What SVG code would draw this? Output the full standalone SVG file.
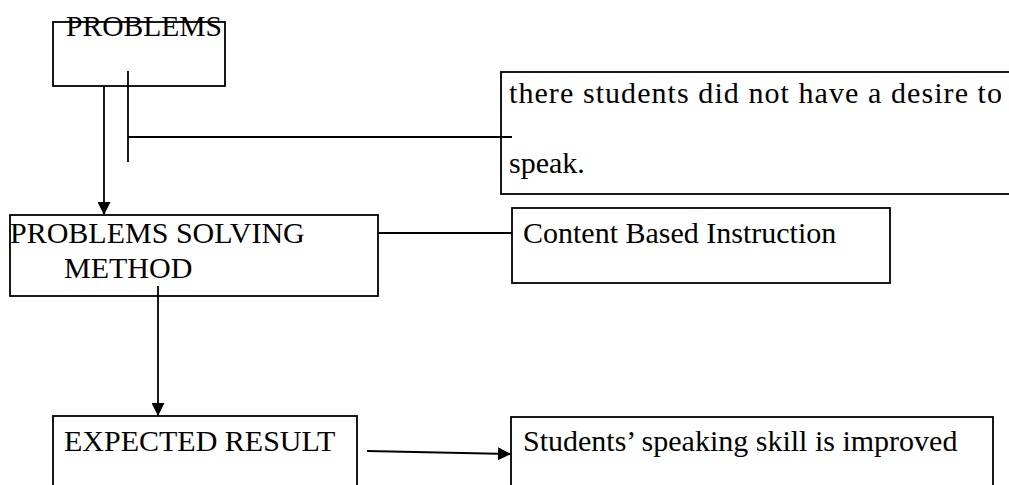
<svg xmlns="http://www.w3.org/2000/svg" width="1009" height="485" viewBox="0 0 1009 485">
<style>
.box{fill:none;stroke:#000;stroke-width:1.8}
.ln{fill:none;stroke:#000;stroke-width:1.8}
text{font-family:"Liberation Serif","Times New Roman",serif;font-size:30px;fill:#000}
</style>
<defs>
<marker id="ah" viewBox="0 0 12 12" refX="12" refY="6" markerWidth="13" markerHeight="13" markerUnits="userSpaceOnUse" orient="auto">
<path d="M0,0 L12,6 L0,12 z" fill="#000"/>
</marker>
</defs>
<rect width="1009" height="485" fill="#fff"/>
<g id="connectors">
<line class="ln" x1="128" y1="71" x2="128" y2="162"/>
<line class="ln" x1="128" y1="137" x2="512" y2="137"/>
<line class="ln" x1="104" y1="86" x2="104" y2="215" marker-end="url(#ah)"/>
<line class="ln" x1="378" y1="233" x2="512" y2="233"/>
<line class="ln" x1="158" y1="286" x2="158" y2="416" marker-end="url(#ah)"/>
<line class="ln" x1="367" y1="451" x2="511" y2="454" marker-end="url(#ah)"/>
</g>
<g id="problems">
<rect class="box" x="53" y="22" width="172" height="64"/>
<text x="66" y="36" textLength="156" lengthAdjust="spacingAndGlyphs">PROBLEMS</text>
</g>
<g id="desire">
<rect class="box" x="501" y="72" width="520" height="122"/>
<text x="509" y="103" textLength="493" lengthAdjust="spacing">there students did not have a desire to</text>
<text x="509" y="173">speak.</text>
</g>
<g id="method">
<rect class="box" x="10" y="215" width="368" height="81"/>
<text x="10" y="243">PROBLEMS SOLVING</text>
<text x="64" y="278">METHOD</text>
</g>
<g id="cbi">
<rect class="box" x="512" y="208" width="378" height="75"/>
<text x="523" y="243">Content Based Instruction</text>
</g>
<g id="expected">
<rect class="box" x="53" y="416" width="304" height="90"/>
<text x="64" y="451">EXPECTED RESULT</text>
</g>
<g id="improved">
<rect class="box" x="511" y="417" width="482" height="90"/>
<text x="523" y="451">Students’ speaking skill is improved</text>
</g>
</svg>
